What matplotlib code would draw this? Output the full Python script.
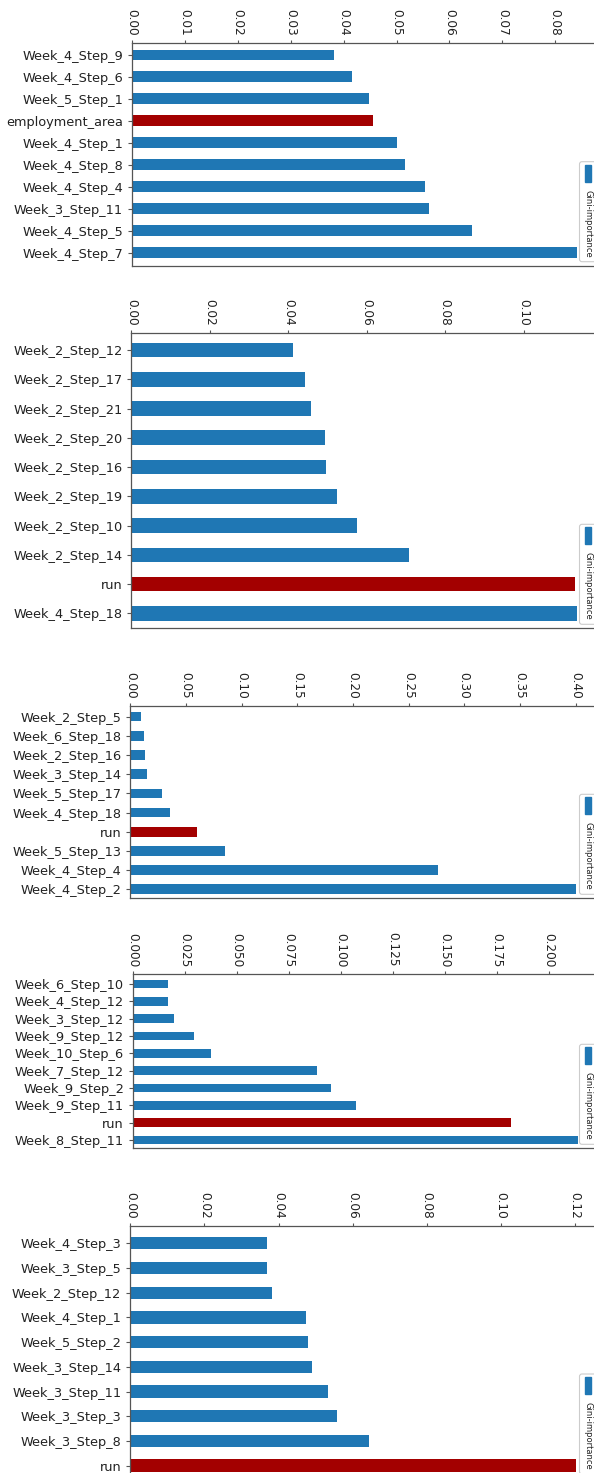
import matplotlib.pyplot as plt
from matplotlib.patches import FancyBboxPatch, Rectangle
from matplotlib.ticker import MultipleLocator
from matplotlib.transforms import IdentityTransform

# feature importances, listed top to bottom as they appear in each panel
feat_1 = ["Week_4_Step_9", "Week_4_Step_6", "Week_5_Step_1", "employment_area",
          "Week_4_Step_1", "Week_4_Step_8", "Week_4_Step_4", "Week_3_Step_11",
          "Week_4_Step_5", "Week_4_Step_7"]
imp_1 = [0.0381, 0.0416, 0.0447, 0.0456, 0.0501, 0.0516, 0.0553, 0.0561, 0.0642, 0.0842]

feat_2 = ["Week_2_Step_12", "Week_2_Step_17", "Week_2_Step_21", "Week_2_Step_20",
          "Week_2_Step_16", "Week_2_Step_19", "Week_2_Step_10", "Week_2_Step_14",
          "run", "Week_4_Step_18"]
imp_2 = [0.0411, 0.0443, 0.0458, 0.0493, 0.0495, 0.0524, 0.0575, 0.0708, 0.1130, 0.1135]

feat_3 = ["Week_2_Step_5", "Week_6_Step_18", "Week_2_Step_16", "Week_3_Step_14",
          "Week_5_Step_17", "Week_4_Step_18", "run", "Week_5_Step_13",
          "Week_4_Step_4", "Week_4_Step_2"]
imp_3 = [0.0099, 0.0122, 0.0129, 0.0153, 0.0286, 0.0361, 0.0599, 0.0847, 0.2765, 0.4000]

feat_4 = ["Week_6_Step_10", "Week_4_Step_12", "Week_3_Step_12", "Week_9_Step_12",
          "Week_10_Step_6", "Week_7_Step_12", "Week_9_Step_2", "Week_9_Step_11",
          "run", "Week_8_Step_11"]
imp_4 = [0.0166, 0.0166, 0.0195, 0.0292, 0.0377, 0.0882, 0.0954, 0.1072, 0.1816, 0.2140]

feat_5 = ["Week_4_Step_3", "Week_3_Step_5", "Week_2_Step_12", "Week_4_Step_1",
          "Week_5_Step_2", "Week_3_Step_14", "Week_3_Step_11", "Week_3_Step_3",
          "Week_3_Step_8", "run"]
imp_5 = [0.0368, 0.0370, 0.0381, 0.0474, 0.0479, 0.0491, 0.0533, 0.0558, 0.0643, 0.1201]

highlight = ["employment_area", "run"]
legend_label = "Gini-importance"

blue = "#1f77b4"
red = "#a30000"
spine_col = "#555555"
text_col = "#222222"

W, H = 594, 1473
fig = plt.figure(figsize=(W / 100, H / 100), dpi=100)

# panel placement in pixels: left, top, bottom, y-limits, x tick step
panels = [
    (feat_1, imp_1, 132.2, 42.7, 265.7, (9.6, -0.56), 0.01),
    (feat_2, imp_2, 131.4, 333.3, 628.3, (9.51, -0.57), 0.02),
    (feat_3, imp_3, 130.3, 705.7, 898.3, (9.47, -0.57), 0.05),
    (feat_4, imp_4, 133.0, 974.3, 1148.3, (9.48, -0.56), 0.025),
    (feat_5, imp_5, 130.3, 1226.0, 1478.0, (9.5, -0.70), 0.02),
]
ax_width = 467.5

for feats, vals, left, top, bottom, ylim, step in panels:
    ax = fig.add_axes([left / W, 1 - bottom / H, ax_width / W, (bottom - top) / H])
    colors = [red if f in highlight else blue for f in feats]
    ax.barh(range(len(feats)), vals, height=0.5, color=colors)
    ax.set_yticks(range(len(feats)))
    ax.set_yticklabels(feats)
    ax.set_ylim(*ylim)
    ax.xaxis.set_major_locator(MultipleLocator(step))
    ax.tick_params(axis="x", top=True, bottom=False, labeltop=True, labelbottom=False,
                   labelrotation=-90, length=2.5, pad=2.8, labelsize=8.7,
                   color=spine_col, labelcolor=text_col)
    ax.tick_params(axis="y", length=3, pad=3.5, labelsize=9.3,
                   color=spine_col, labelcolor=text_col)
    for s in ax.spines.values():
        s.set_color(spine_col)
        s.set_linewidth(0.9)

    # rotated legend at the right edge (drawn in pixels)
    box_top = bottom - 104
    box = FancyBboxPatch((579.5, H - box_top - 100), 40, 100,
                         boxstyle="round,pad=0,rounding_size=2.5",
                         transform=IdentityTransform(), fc="white", ec="#cccccc", lw=0.8)
    fig.add_artist(box)
    handle = Rectangle((585, H - box_top - 20), 6, 17, transform=IdentityTransform(),
                       color=blue)
    fig.add_artist(handle)
    fig.text(588, H - box_top - 28, legend_label, rotation=270, ha="center", va="top",
             fontsize=6, color=text_col, transform=IdentityTransform())

plt.savefig("out.png", dpi=100)
